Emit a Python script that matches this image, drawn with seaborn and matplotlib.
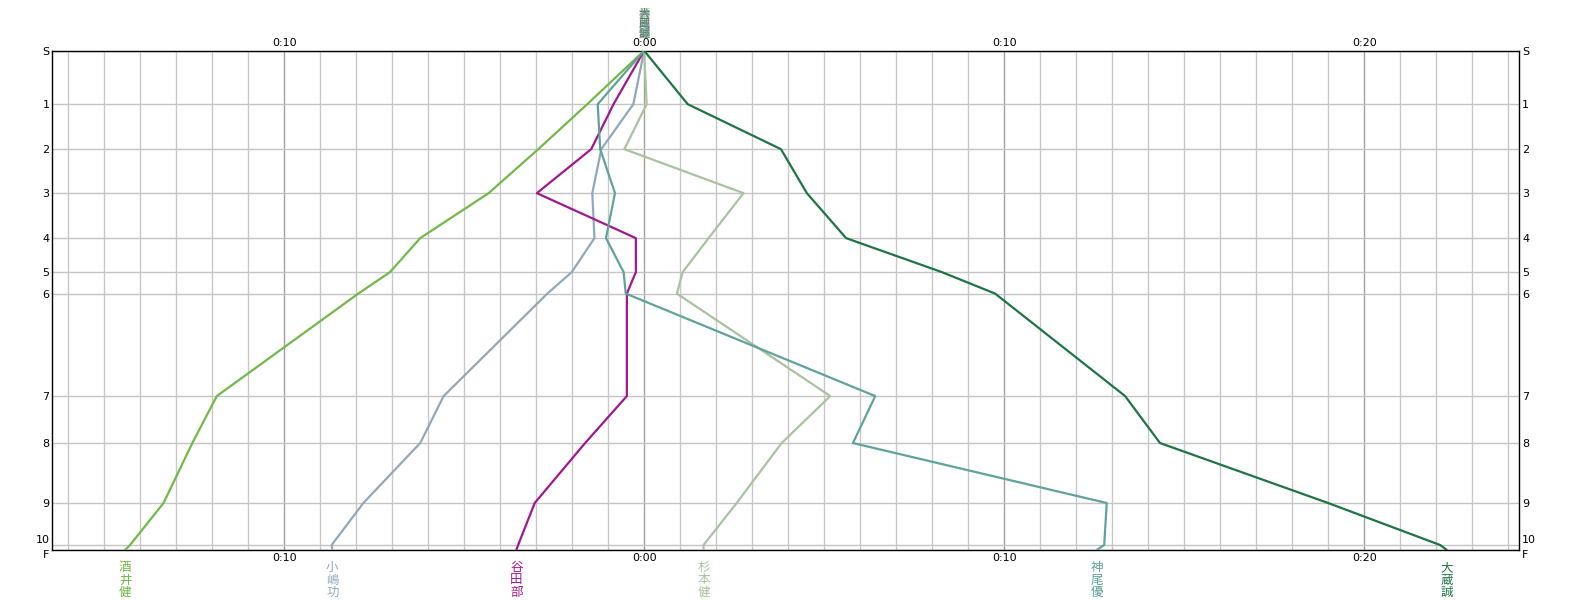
import numpy as np
import pandas as pd
import seaborn as sns
import matplotlib.pyplot as plt
from matplotlib.ticker import MultipleLocator, FixedLocator
import matplotlib.transforms as mtransforms

# Checkpoints and their cumulative position along the course
checkpoints = ['S', '1', '2', '3', '4', '5', '6', '7', '8', '9', '10', 'F']
checkpoint_pos = [0, 53.5, 98.5, 142.5, 187.5, 221.5, 243, 345.5, 392.5, 452.5, 494.5, 499.5]

runners = ['酒井健', '小嶋功', '谷田部', '杉本健', '神尾優', '大蔵誠']
colors = ['#72b84a', '#92a8ba', '#a0188e', '#a9c29f', '#5fa39a', '#1f7446']

# Gap to reference time at each checkpoint (minutes)
sakai = [0, -1.58, -2.94, -4.32, -6.22, -7.06, -7.94, -11.87, -12.55, -13.35, -14.28, -14.42]
kojima = [0, -0.30, -1.19, -1.44, -1.38, -2.01, -2.69, -5.57, -6.22, -7.80, -8.68, -8.66]
yatabe = [0, -0.85, -1.47, -2.98, -0.23, -0.23, -0.48, -0.48, -1.64, -3.04, -3.50, -3.55]
sugimoto = [0, 0.07, -0.55, 2.76, 1.79, 1.07, 0.91, 5.17, 3.82, 2.57, 1.65, 1.65]
kamio = [0, -1.29, -1.22, -0.81, -1.06, -0.57, -0.51, 6.42, 5.80, 12.85, 12.78, 12.57]
okura = [0, 1.21, 3.80, 4.52, 5.61, 8.27, 9.75, 13.36, 14.33, 19.00, 22.11, 22.30]

x_ticks = [-10, 0, 10, 20]
x_tick_labels = ['0:10', '0:00', '0:10', '0:20']

series = [sakai, kojima, yatabe, sugimoto, kamio, okura]
rows = []
for name, vals in zip(runners, series):
    for i, v in enumerate(vals):
        rows.append({'runner': name, 'order': i, 'gap': v, 'pos': checkpoint_pos[i]})
df = pd.DataFrame(rows)

sns.set_style('white')
plt.rcParams['font.family'] = ['Noto Sans CJK JP', 'DejaVu Sans']

fig = plt.figure(figsize=(15.71, 6.0), dpi=100)
ax = fig.add_axes([52.3 / 1571, 1 - 550 / 600, (1519.3 - 52.3) / 1571, (550 - 50.7) / 600])

sns.lineplot(data=df, x='gap', y='pos', hue='runner', hue_order=runners,
             palette=colors, estimator=None, sort=False, units='runner',
             linewidth=1.6, legend=False, ax=ax, zorder=3)

ax.set_xlim(-16.44, 24.31)
ax.set_ylim(checkpoint_pos[-1], 0)

# grid
ax.xaxis.set_major_locator(FixedLocator(x_ticks))
ax.xaxis.set_minor_locator(MultipleLocator(1))
ax.set_xticklabels(x_tick_labels)
ax.yaxis.set_major_locator(FixedLocator(checkpoint_pos))
ax.set_yticklabels(checkpoints)
ax.xaxis.grid(True, which='minor', color='#c8c8c8', linewidth=1.0)
ax.xaxis.grid(True, which='major', color='#a0a0a0', linewidth=1.0)
ax.yaxis.grid(True, which='major', color='#c4c4c4', linewidth=1.0)
ax.set_axisbelow(True)

ax.tick_params(axis='both', which='both', length=0, labelsize=8, colors='black')
ax.tick_params(axis='x', labeltop=True, labelbottom=True, pad=2)
ax.tick_params(axis='y', labelleft=True, labelright=True, pad=2)
for lab in ax.get_xticklabels() + ax.get_yticklabels():
    lab.set_family('DejaVu Sans')

# "10" and "F" sit almost on top of each other: nudge them apart
for tick in ax.yaxis.get_major_ticks()[-2:-1]:
    tick.label1.set_va('bottom')
    tick.label2.set_va('bottom')
for tick in ax.yaxis.get_major_ticks()[-1:]:
    tick.label1.set_va('top')
    tick.label2.set_va('top')
ax.set_xlabel('')
ax.set_ylabel('')
for sp in ax.spines.values():
    sp.set_color('black')
    sp.set_linewidth(1.0)

# runner names: below at their finish time, stacked at the start on top
trans = mtransforms.blended_transform_factory(ax.transData, ax.transAxes)
for name, vals, c in zip(runners, series, colors):
    ax.text(vals[-1], -0.022, '\n'.join(name), transform=trans, ha='center', va='top',
            color=c, fontsize=9, linespacing=0.95)
    ax.text(0, 1.024, '\n'.join(name), transform=trans, ha='center', va='bottom',
            color=c, fontsize=8, linespacing=0.95, alpha=0.6)

fig.savefig('out.png', dpi=100, facecolor='white')
